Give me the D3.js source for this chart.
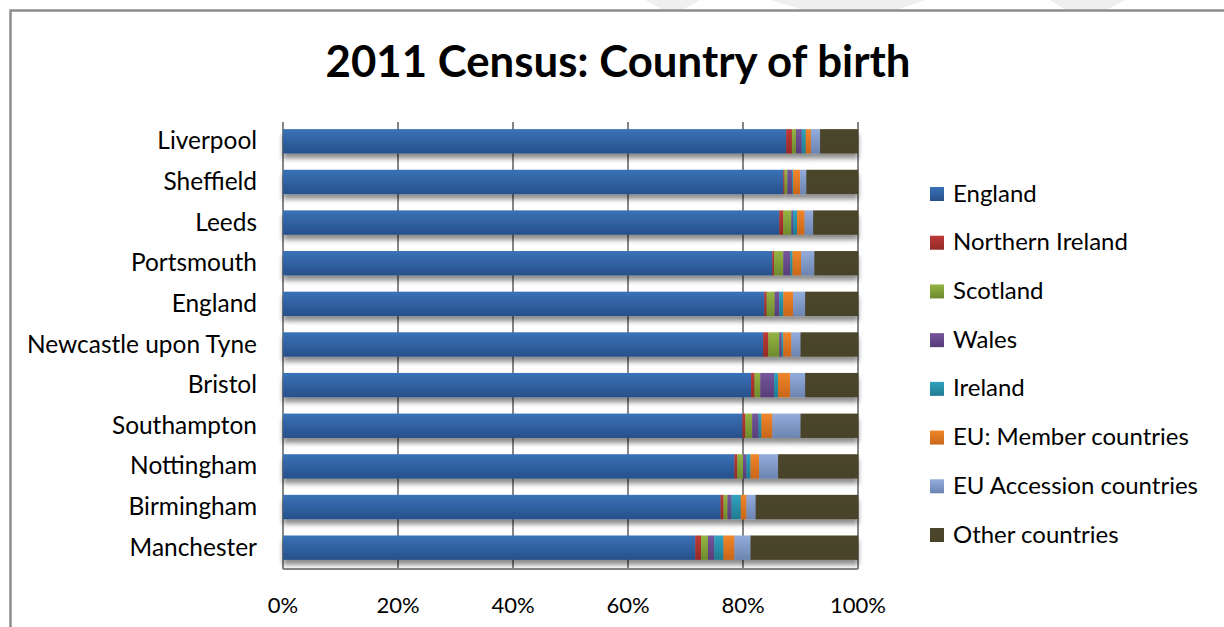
<!DOCTYPE html>
<html>
<head>
<meta charset="utf-8">
<script src="https://cdnjs.cloudflare.com/ajax/libs/d3/7.8.5/d3.min.js"></script>
<style>
  html, body { margin: 0; padding: 0; background: #ffffff; }
  svg { display: block; }
</style>
</head>
<body>
<svg id="chart" width="1224" height="627"></svg>
<script>
// ---------- data ----------
const categories = ["Liverpool", "Sheffield", "Leeds", "Portsmouth", "England",
  "Newcastle upon Tyne", "Bristol", "Southampton", "Nottingham", "Birmingham", "Manchester"];
const seriesNames = ["England", "Northern Ireland", "Scotland", "Wales", "Ireland",
  "EU: Member countries", "EU Accession countries", "Other countries"];
const englandVals   = [87.5, 87.1, 86.3, 85.1, 83.7, 83.5, 81.4, 79.9, 78.5, 76.1, 71.7];
const nIrelandVals  = [1.0, 0.2, 0.7, 0.3, 0.4, 0.9, 0.6, 0.5, 0.5, 0.5, 1.0];
const scotlandVals  = [0.7, 0.5, 1.4, 1.6, 1.4, 1.9, 1.0, 1.2, 1.0, 0.7, 1.2];
const walesVals     = [1.0, 0.8, 0.3, 1.2, 0.8, 0.4, 2.4, 1.1, 0.6, 0.7, 1.1];
const irelandVals   = [0.7, 0.2, 0.7, 0.4, 0.7, 0.3, 0.7, 0.5, 0.7, 1.6, 1.6];
const euMemberVals  = [0.9, 1.2, 1.3, 1.5, 1.7, 1.4, 2.1, 1.9, 1.5, 1.0, 1.9];
const euAccessVals  = [1.6, 1.1, 1.5, 2.3, 2.1, 1.6, 2.6, 4.9, 3.3, 1.6, 2.8];
const otherVals     = [6.6, 9.0, 7.8, 7.6, 9.2, 10.0, 9.2, 10.0, 13.9, 17.8, 18.7];
const tickValues = [0, 20, 40, 60, 80, 100];
const tickLabels = ["0%", "20%", "40%", "60%", "80%", "100%"];

const seriesValues = [englandVals, nIrelandVals, scotlandVals, walesVals, irelandVals,
  euMemberVals, euAccessVals, otherVals];
const colors = [
  ["#3a72b8", "#27508a"],
  ["#bd3a36", "#922a27"],
  ["#94b545", "#6d8a2c"],
  ["#76569c", "#573d78"],
  ["#31a3bf", "#207a91"],
  ["#f0862a", "#c8661a"],
  ["#93acdb", "#6c84b0"],
  ["#4b452b", "#49432a"]
];

const svg = d3.select("#chart");
const W = 1224, H = 627;
const FONT = "Lato, 'Open Sans', sans-serif";

function fitText(sel, target) {
  const node = sel.node();
  const fs = parseFloat(sel.attr("font-size"));
  const w = node.getComputedTextLength();
  if (w > 0) sel.attr("font-size", fs * target / w);
  return parseFloat(sel.attr("font-size"));
}

const defs = svg.append("defs");
colors.forEach((c, i) => {
  const g = defs.append("linearGradient").attr("id", "grad" + i)
    .attr("x1", 0).attr("y1", 0).attr("x2", 0).attr("y2", 1);
  g.append("stop").attr("offset", "0%").attr("stop-color", c[0]);
  g.append("stop").attr("offset", "100%").attr("stop-color", c[1]);
});
const f = defs.append("filter").attr("id", "shadow")
  .attr("x", "-5%").attr("y", "-30%").attr("width", "110%").attr("height", "190%");
f.append("feDropShadow").attr("dx", 0).attr("dy", 5).attr("stdDeviation", 2.8)
  .attr("flood-color", "#000").attr("flood-opacity", 0.45);

// faint background shapes at top
const bgShapes = [
  [[645, 0], [700, 0], [684, 9], [662, 9]],
  [[770, 0], [925, 0], [900, 9], [800, 9]],
  [[1050, 0], [1125, 0], [1108, 9], [1064, 9]]
];
svg.append("g").selectAll("polygon").data(bgShapes).join("polygon")
  .attr("points", d => d.map(p => p.join(",")).join(" "))
  .attr("fill", "#efefef");

// outer frame
svg.append("path").attr("d", `M10.5,${H} L10.5,10.5 L${W},10.5`)
  .attr("fill", "none").attr("stroke", "#8c8c8c").attr("stroke-width", 2.5);

// scales
const x = d3.scaleLinear().domain([0, 100]).range([283, 858]);
const y = d3.scaleBand().domain(categories).range([122, 569]).paddingInner(0.4).paddingOuter(0.2);

// gridlines
svg.append("g").selectAll("line").data(tickValues).join("line")
  .attr("x1", d => x(d)).attr("x2", d => x(d))
  .attr("y1", 122).attr("y2", 569)
  .attr("stroke", "#868686").attr("stroke-width", 2);
svg.append("line").attr("x1", x(0)).attr("x2", x(100)).attr("y1", 569).attr("y2", 569)
  .attr("stroke", "#868686").attr("stroke-width", 2);

// stacked data
const rows = categories.map((c, i) => {
  const o = { cat: c };
  seriesNames.forEach((s, j) => o[s] = seriesValues[j][i]);
  return o;
});
const stack = d3.stack().keys(seriesNames).offset(d3.stackOffsetExpand);
const stacked = stack(rows);

const barLayer = svg.append("g");
const rowG = barLayer.selectAll("g.row").data(categories).join("g")
  .attr("class", "row").attr("filter", "url(#shadow)");
rowG.each(function (cat, ci) {
  const g = d3.select(this);
  stacked.forEach((s, si) => {
    const d = s[ci];
    g.append("rect")
      .attr("x", x(d[0] * 100))
      .attr("width", x(d[1] * 100) - x(d[0] * 100) + 0.3)
      .attr("y", y(cat) - 1)
      .attr("height", y.bandwidth())
      .attr("fill", `url(#grad${si})`);
  });
});

// category labels
const catG = svg.append("g");
const probe = catG.append("text").attr("font-family", FONT).attr("font-size", 20).text("Newcastle upon Tyne");
const catFS = fitText(probe, 230);
probe.remove();
catG.selectAll("text").data(categories).join("text")
  .attr("x", 257).attr("y", d => y(d) + y.bandwidth() / 2 - 2.5)
  .attr("text-anchor", "end").attr("dominant-baseline", "central")
  .attr("font-family", FONT).attr("font-size", catFS).attr("fill", "#000")
  .text(d => d);

// x axis tick labels
const tickG = svg.append("g");
const tprobe = tickG.append("text").attr("font-family", FONT).attr("font-size", 20).text("100%");
const tickFS = fitText(tprobe, 56);
tprobe.remove();
tickG.selectAll("text").data(tickValues).join("text")
  .attr("x", d => x(d)).attr("y", 604)
  .attr("text-anchor", "middle").attr("dominant-baseline", "central")
  .attr("font-family", FONT).attr("font-size", tickFS).attr("fill", "#000")
  .text((d, i) => tickLabels[i]);

// title
const title = svg.append("text")
  .attr("x", 618).attr("y", 77).attr("text-anchor", "middle")
  .attr("font-family", FONT).attr("font-weight", "bold").attr("font-size", 40)
  .attr("fill", "#000").text("2011 Census: Country of birth");
fitText(title, 585);

// legend
const legG = svg.append("g");
const lprobe = legG.append("text").attr("font-family", FONT).attr("font-size", 22).text("EU Accession countries");
const legFS = fitText(lprobe, 245);
lprobe.remove();
const legY = d3.scalePoint().domain(seriesNames).range([194, 535]);
const li = legG.selectAll("g").data(seriesNames).join("g")
  .attr("transform", d => `translate(930,${legY(d)})`);
li.append("rect").attr("x", 0).attr("y", -7).attr("width", 14).attr("height", 14)
  .attr("fill", (d, i) => `url(#grad${i})`);
li.append("text").attr("x", 23).attr("y", -2).attr("dominant-baseline", "central")
  .attr("font-family", FONT).attr("font-size", legFS).attr("fill", "#000")
  .text(d => d);
</script>
</body>
</html>
